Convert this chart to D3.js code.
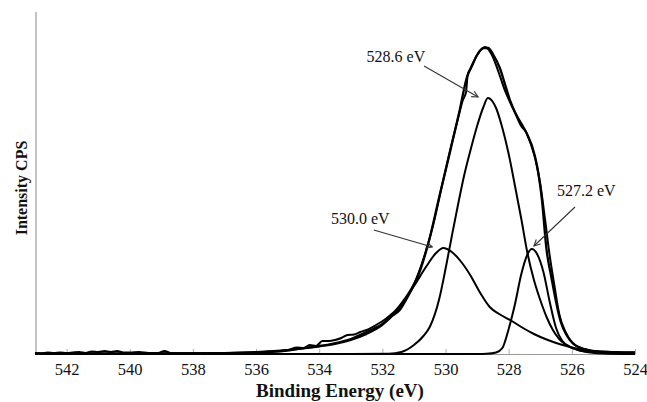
<!DOCTYPE html>
<html>
<head>
<meta charset="utf-8">
<script src="https://cdn.jsdelivr.net/npm/d3@7"></script>
<style>
  body { margin: 0; background: #fff; }
  text { font-family: "Liberation Serif", "Times New Roman", serif; fill: #111; }
</style>
</head>
<body>
<div id="chart"></div>
<script>
// binding energy ticks (eV), x axis runs high -> low
var tickValues = [542, 540, 538, 536, 534, 532, 530, 528, 526, 524];

// measured O 1s spectrum (eV, intensity in arbitrary CPS units)
var rawEnergy = [543.0, 542.8, 542.6, 542.4, 542.2, 542.0, 541.8, 541.6, 541.4, 541.2, 541.0, 540.8, 540.6, 540.4, 540.2, 540.0,
  539.7, 539.4, 539.1, 538.9, 538.7, 538.4, 538.0, 537.5, 537.0, 536.5, 536.0, 535.5, 535.0, 534.7, 534.5, 534.3, 534.1,
  533.9, 533.7, 533.5, 533.3, 533.1, 532.9, 532.7, 532.5, 532.2, 531.9, 531.6, 531.3, 531.0, 530.7, 530.4, 530.1, 529.8,
  529.6, 529.45, 529.35, 529.3, 529.2, 529.0, 528.85, 528.75, 528.65, 528.5, 528.3, 528.1, 527.9, 527.7, 527.55, 527.45,
  527.3, 527.15, 527.0, 526.85, 526.7, 526.55, 526.4, 526.2, 526.0, 525.8, 525.5, 525.2, 524.8, 524.4, 524.0];
var rawCounts = [1.0, 0.5, 1.5, 1.0, 1.5, 1.0, 1.5, 2.0, 1.0, 2.5, 2.0, 3.0, 2.0, 3.0, 1.5, 1.5,
  2.0, 1.0, 1.0, 3.0, 1.0, 0.8, 0.8, 0.8, 1.0, 1.2, 1.5, 2.5, 4.0, 6.5, 6.0, 9.0, 8.0,
  13.0, 13.0, 14.0, 16.0, 19.0, 19.5, 22.0, 24.0, 29.0, 35.0, 43.0, 55.0, 70.0, 95.0, 128.0, 170.0, 211.0,
  236.0, 254.0, 262.0, 279.0, 286.0, 299.0, 305.0, 307.0, 305.0, 297.0, 280.0, 262.0, 248.0, 236.0, 228.0, 222.0,
  210.0, 194.0, 170.0, 135.0, 98.0, 68.0, 40.0, 22.0, 12.0, 7.0, 4.0, 2.5, 2.0, 1.5, 1.5];

// fitted envelope
var fitEnergy = [543.0, 540.0, 538.0, 537.0, 536.2, 535.6, 535.0, 534.6, 534.0, 533.55, 533.0, 532.5, 532.0, 531.75, 531.45,
  531.2, 530.8, 530.5, 530.2, 529.85, 529.55, 529.33, 529.15, 529.0, 528.8, 528.65, 528.5, 528.28, 528.1, 527.95, 527.75,
  527.6, 527.45, 527.35, 527.25, 527.1, 526.95, 526.8, 526.65, 526.5, 526.35, 526.15, 525.95, 525.6, 525.2, 524.6, 524.0];
var fitCounts = [0.5, 0.5, 0.6, 0.8, 1.2, 2.0, 3.5, 5.5, 8.0, 10.5, 15.0, 22.0, 30.0, 37.0, 44.0,
  57.0, 84.0, 116.0, 157.0, 203.0, 244.0, 276.0, 289.0, 299.0, 306.0, 306.0, 300.0, 286.0, 268.0, 253.0, 238.0,
  228.0, 222.0, 215.0, 207.0, 188.0, 155.0, 104.0, 77.0, 52.0, 32.0, 18.0, 10.0, 5.0, 2.5, 1.8, 1.5];

// component at 528.6 eV
var peakAEnergy = [543.0, 533.0, 531.8, 531.4, 531.0, 530.7, 530.5, 530.2, 530.0, 529.8, 529.6, 529.4, 529.2, 529.0, 528.8,
  528.66, 528.5, 528.4, 528.2, 528.0, 527.8, 527.6, 527.4, 527.2, 527.0, 526.8, 526.6, 526.4, 526.2, 525.8, 525.4, 525.0, 524.0];
var peakACounts = [0.0, 0.0, 0.3, 2.0, 9.0, 18.0, 27.0, 55.0, 85.0, 118.0, 150.0, 180.0, 205.0, 228.0, 247.0,
  256.0, 252.0, 246.0, 226.0, 200.0, 168.0, 135.0, 100.0, 74.0, 54.0, 37.0, 24.0, 15.0, 9.5, 4.0, 2.0, 1.0, 0.5];

// component at 530.0 eV
var peakBEnergy = [543.0, 539.0, 537.0, 536.0, 535.0, 534.0, 533.5, 533.0, 532.5, 532.0, 531.5, 531.0, 530.6, 530.3, 530.07,
  529.8, 529.5, 529.2, 528.9, 528.6, 528.3, 527.9, 527.6, 527.2, 526.8, 526.4, 526.0, 525.5, 525.0, 524.0];
var peakBCounts = [0.2, 0.5, 1.0, 2.0, 4.0, 7.5, 10.0, 14.0, 20.0, 29.0, 45.0, 68.0, 88.0, 101.0, 106.0,
  102.0, 92.0, 78.0, 61.0, 47.0, 40.0, 33.0, 27.0, 20.0, 14.5, 10.0, 6.5, 3.5, 2.0, 0.7];

// component at 527.2 eV
var peakCEnergy = [543.0, 529.0, 528.7, 528.4, 528.2, 528.0, 527.8, 527.6, 527.4, 527.27, 527.1, 526.9, 526.7, 526.5,
  526.3, 526.1, 525.8, 525.4, 525.0, 524.0];
var peakCCounts = [0.0, 0.0, 0.2, 1.5, 6.0, 25.0, 50.0, 80.0, 100.0, 105.0, 100.0, 82.0, 52.0, 26.0,
  13.0, 8.0, 4.0, 1.5, 0.5, 0.0];

// peak labels: text anchor and arrow tail/head, all in (eV, counts)
var labelText = ["528.6 eV", "530.0 eV", "527.2 eV"];
var labelAt = [[532.5, 292], [533.63, 130], [526.47, 158]];
var arrowFrom = [[530.68, 288], [532.27, 124], [525.9, 147]];
var arrowTo = [[528.97, 257], [530.42, 107], [527.2, 108]];

var width = 647, height = 402;
var svg = d3.select("#chart").append("svg")
  .attr("width", width)
  .attr("height", height);

var x = d3.scaleLinear().domain([543, 524]).range([35, 635]);
var y = d3.scaleLinear().domain([0, 342]).range([354, 12]);

// axes
svg.append("line")
  .attr("x1", x(543) + 1).attr("x2", x(543) + 1)
  .attr("y1", y(342)).attr("y2", y(0))
  .attr("stroke", "#9a9a9a").attr("stroke-width", 1.2);

var xAxis = svg.append("g")
  .attr("transform", "translate(0," + y(0) + ")")
  .call(d3.axisBottom(x).tickValues(tickValues).tickSizeInner(-5).tickSizeOuter(0).tickPadding(9));
xAxis.select(".domain").attr("stroke", "#9a9a9a");
xAxis.selectAll(".tick line").attr("stroke", "#aaaaaa");
xAxis.selectAll(".tick text")
  .style("font-family", "'Liberation Serif', serif")
  .style("font-size", "16.5px")
  .attr("fill", "#111");

// curves
var line = d3.line()
  .x(function(d){ return x(d[0]); })
  .y(function(d){ return y(d[1]); })
  .curve(d3.curveMonotoneX);

var series = [
  {e: peakBEnergy, c: peakBCounts, w: 2},
  {e: peakCEnergy, c: peakCCounts, w: 2},
  {e: peakAEnergy, c: peakACounts, w: 2},
  {e: fitEnergy, c: fitCounts, w: 2.3},
  {e: rawEnergy, c: rawCounts, w: 2}
];

svg.append("g").selectAll("path")
  .data(series)
  .enter().append("path")
  .attr("d", function(s){ return line(s.e.map(function(v, i){ return [v, s.c[i]]; })); })
  .attr("fill", "none")
  .attr("stroke", "#000")
  .attr("stroke-width", function(s){ return s.w; })
  .attr("stroke-linejoin", "round");

// arrows
svg.append("defs").append("marker")
  .attr("id", "head")
  .attr("viewBox", "0 0 10 10")
  .attr("refX", 9).attr("refY", 5)
  .attr("markerWidth", 7).attr("markerHeight", 7)
  .attr("orient", "auto")
  .append("path")
  .attr("d", "M1,1 L9,5 L1,9")
  .attr("fill", "none")
  .attr("stroke", "#333")
  .attr("stroke-width", 1.4);

svg.append("g").selectAll("line")
  .data(labelText)
  .enter().append("line")
  .attr("x1", function(d, i){ return x(arrowFrom[i][0]); })
  .attr("y1", function(d, i){ return y(arrowFrom[i][1]); })
  .attr("x2", function(d, i){ return x(arrowTo[i][0]); })
  .attr("y2", function(d, i){ return y(arrowTo[i][1]); })
  .attr("stroke", "#333")
  .attr("stroke-width", 1.1)
  .attr("marker-end", "url(#head)");

svg.append("g").selectAll("text")
  .data(labelText)
  .enter().append("text")
  .attr("x", function(d, i){ return x(labelAt[i][0]); })
  .attr("y", function(d, i){ return y(labelAt[i][1]); })
  .style("font-size", "16px")
  .text(function(d){ return d; });

// axis titles
svg.append("text")
  .attr("x", 340).attr("y", 397)
  .attr("text-anchor", "middle")
  .style("font-size", "19px")
  .style("font-weight", "bold")
  .text("Binding Energy (eV)");

svg.append("text")
  .attr("transform", "translate(27,188) rotate(-90)")
  .attr("text-anchor", "middle")
  .style("font-size", "16px")
  .style("font-weight", "bold")
  .text("Intensity CPS");
</script>
</body>
</html>
